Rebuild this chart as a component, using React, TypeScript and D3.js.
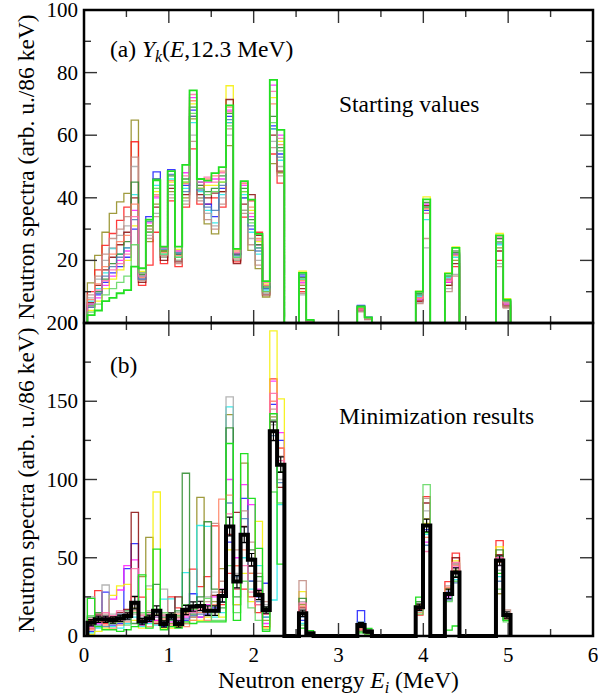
import React, { useEffect, useRef } from "react";
import * as d3 from "d3";

// 86 keV bins, first bin edge at 0.04 MeV
const BIN_START = 0.04;
const BIN_WIDTH = 0.086;
const N_BINS = 58;

// bins that are not empty (all the others are zero)
const binIndex = [0, 1, 2, 3, 4, 5, 6, 7, 8, 9, 10, 11, 12, 13, 14, 15, 16, 17, 18, 19, 20, 21, 22, 23, 24, 25, 26,
  29, 30, 37, 38, 45, 46, 49, 50, 56, 57];

const xTicks = [0, 1, 2, 3, 4, 5, 6];
const topYTicks = [0, 20, 40, 60, 80, 100];
const bottomYTicks = [0, 50, 100, 150, 200];

const seriesNames = ["olive", "red", "blue", "cyan", "magenta", "yellow", "grey", "darkred",
  "rosybrown", "darkgreen", "coral", "steelblue", "pink", "lime", "green"];
const seriesColors = ["#8f8a1c", "#ff1a1a", "#1a1aff", "#1ae8e8", "#ff1aff", "#f5f000", "#a8a8a8", "#8b0a0a",
  "#c08a80", "#2a8a2a", "#ff8060", "#4a7ab4", "#ff6aa8", "#5cd65c", "#22e022"];

// (a) starting values
const topOlive = [12.8, 21.6, 29, 35, 38.7, 41.4, 64.8, 15, 26, 38, 21, 42, 20, 40, 65.2, 40, 31.7, 28.5, 42, 56.7, 20, 36, 23.2, 17.4, 8.3, 50.9, 48, 12, 0.8, 4.5, 1.4, 8, 35, 12, 20, 24, 6];
const topRed = [10, 17, 24.8, 28.6, 32.8, 37, 57.9, 12, 18.5, 29, 19, 39, 18, 37, 55.6, 38, 38, 40, 37, 64, 19.5, 33.8, 39, 29, 10, 54, 44.7, 10, 0.7, 4, 1.2, 7, 37, 13, 18, 20, 5];
const topBlue = [6, 9, 13, 16, 18, 21, 30, 14, 34, 48.3, 24, 49, 22, 44, 68, 45, 38, 34, 43, 66, 22, 40, 30, 24, 11, 63, 54, 15, 0.9, 5.6, 1.9, 9, 36, 14, 22, 26, 7];
const topCyan = [7, 11, 16, 23.8, 22, 24, 41, 15, 30, 44, 22, 46, 21, 43, 64, 42, 36, 32, 41, 64, 21, 41, 29, 22, 10.5, 62, 52, 14, 0.8, 5, 1.5, 8.5, 33, 14.5, 21, 25, 6.5];
const topMagenta = [5, 8, 12, 15, 20, 23, 36, 16, 32, 40, 23, 44, 23, 48, 72, 44, 45, 46, 46, 68, 22, 44, 34, 25, 12, 76, 60, 13, 0.6, 4.2, 1.3, 7.5, 38, 13, 23, 27, 6];
const topYellow = [4, 7, 11, 14, 17, 20, 31, 16.5, 31, 42, 23, 45, 23.5, 45, 70, 43, 44, 44, 45, 75.8, 23.5, 42, 36, 26, 12.5, 72, 58, 16.6, 1, 5, 1.7, 10.2, 40.3, 16, 24.3, 28.6, 7.8];
const topGrey = [8, 14, 20, 24, 28, 31, 50, 14, 28, 35, 21, 41, 20, 39, 60, 40, 35, 31, 40, 60, 20, 36, 27, 20, 9.5, 58, 50, 9, 0.6, 3.8, 1.1, 6.5, 24, 11, 15.5, 19, 5];
const topDarkred = [6.5, 12, 17, 21, 25, 29, 40, 13, 29, 37, 20, 43, 19.5, 41, 66, 41, 40, 41.5, 42, 71.4, 19, 38, 41, 28, 9, 60, 48.5, 11, 0.7, 4.5, 1.3, 7, 37.5, 12, 19, 23, 5.5];
const topRosybrown = [9, 15, 22, 27, 30, 34, 53, 13.5, 27, 34, 21.5, 40, 19, 38, 58, 39, 33, 30, 38, 62, 20.5, 35, 25, 18.5, 9, 56, 47, 9.5, 0.6, 3.6, 1.1, 6.2, 27, 10, 15, 18, 4.8];
const topDarkgreen = [5.5, 10, 14, 19, 22, 26, 45, 15.5, 31, 46, 23, 47, 22, 46, 69, 44, 42, 43, 47, 67, 22, 43, 33, 25, 11.5, 66, 56, 14.5, 0.9, 5.2, 1.6, 9.5, 38.5, 15, 22.5, 27, 7];
const topCoral = [7.5, 12.5, 18, 22, 26, 28, 38, 14.5, 30, 41, 22.5, 45.5, 21.5, 44.5, 71, 43, 46, 47, 48.5, 69, 23, 44.5, 37, 27, 12, 70, 57, 13.5, 0.8, 4.8, 1.5, 8, 36.5, 14, 21.5, 26, 6.8];
const topSteelblue = [5, 9.5, 15, 18, 21, 24, 33, 14, 32.5, 46, 23.5, 47.5, 22.5, 42, 66, 42.5, 37, 36, 44, 65, 21.5, 40, 31, 23, 11, 62, 53, 15.5, 0.8, 5.4, 1.8, 9, 37, 15, 22, 25.5, 7.2];
const topPink = [6, 10.5, 13.5, 17, 19, 22, 34, 15, 33, 40.5, 24, 44, 23, 47, 73, 45, 46.6, 45, 48, 67.5, 22.5, 45, 35, 26.5, 13, 74, 59, 12.5, 0.7, 4.4, 1.4, 7.8, 35, 13.5, 22, 27.5, 6.4];
const topLime = [3.5, 6, 9, 11, 13, 15, 25, 16, 29, 43, 22, 44, 21, 45, 67, 43, 41, 42, 45, 63, 21, 42, 32, 24, 10, 64, 55, 14, 0.8, 5, 1.6, 9, 37, 15, 23, 26, 7];
const topGreen = [2.5, 4, 7, 8, 9.5, 10.5, 18, 17.5, 33, 45.6, 24.4, 48.5, 24.4, 50.5, 74.3, 46, 45.5, 47.9, 49.8, 69.5, 23.7, 45.3, 39.4, 28.5, 13.4, 77.7, 61.7, 16, 1, 5.3, 1.8, 10, 39.5, 15.8, 24, 28, 7.5];

// (b) minimization results
const botOlive = [8, 10, 12, 9, 11, 14, 18, 38, 63, 14, 10, 8, 12, 15, 12, 88.6, 15, 22, 43, 141.5, 30, 110.5, 40, 20, 10, 140, 110, 20, 1.5, 5, 2, 18, 75, 26, 42, 27, 11];
const botRed = [5, 29, 8, 10, 9, 12, 25, 24.8, 9, 10, 8, 25, 18, 14, 42.7, 31.6, 38, 70.4, 20, 40, 45, 30, 25, 15, 6, 164.3, 120, 15, 1, 4, 1.5, 13.4, 89, 34.8, 52.9, 61, 12];
const botBlue = [3, 6, 28, 7, 8, 43, 59, 8, 10, 12, 6, 10, 8, 10, 27, 12, 14, 18, 25, 60, 20, 88, 35, 25, 33.7, 148, 125, 10, 1, 16.2, 3, 19, 68, 28, 40, 45, 12.5];
const botCyan = [2, 5, 10, 6, 5, 8, 12, 6, 8, 7, 23.5, 23.7, 10, 40.5, 15, 70.6, 70, 12, 15, 146.4, 35, 50, 30, 45, 12, 23, 84, 8, 0.8, 6, 2, 16, 65, 24, 36, 38, 10];
const botMagenta = [6, 8, 12, 23.5, 29.4, 45, 48.7, 7, 9, 10, 7, 9, 10, 12, 16, 12, 20, 25, 30, 100, 50, 96.7, 84, 30, 8, 162.8, 130, 14, 1.2, 7, 2.5, 17, 60, 25, 44, 50, 13];
const botYellow = [1, 3, 5, 26, 32, 33, 10, 5, 30, 92, 5, 5, 6, 8, 10, 10, 12, 15, 12, 55, 20, 40, 22, 73.2, 5, 195, 151.5, 28.4, 1, 4, 1, 20, 72, 30, 48, 57, 14];
const botGrey = [25, 12, 32.6, 14, 12, 10, 14, 12, 32, 15, 30, 12, 15, 18, 20, 22, 25, 28, 30, 152.8, 40, 60, 50, 35, 20, 135, 100, 22, 1.5, 8, 3, 21, 80, 29, 46, 42, 12];
const botDarkred = [10, 14, 9, 12, 15, 17, 79, 10, 12, 8, 9, 12, 25, 16, 18, 20, 16, 26, 28, 65, 79, 70, 45, 28, 14, 125, 95, 18, 1.5, 3, 1.5, 17, 85, 27, 50, 52, 11];
const botRosybrown = [7, 11, 14, 8, 10, 12, 20, 14, 16, 12, 14, 15, 12, 8, 12, 18, 22, 72, 35, 70, 55, 80, 60, 40, 22, 145, 115, 35.4, 2, 5, 2, 16, 88, 32, 46, 45, 16.6];
const botDarkgreen = [12, 15, 10, 11, 13, 16, 8, 9, 15, 33, 12, 14, 16, 104, 14, 25, 73, 30, 18, 133, 25, 65, 55, 38, 18, 138, 105, 24, 2, 7, 2, 22, 70, 26, 38, 55, 14];
const botCoral = [4, 9, 7, 5, 7, 9, 16, 11, 6, 9, 11, 7, 14, 6, 10, 15, 10, 20, 87.5, 90, 45, 55, 40, 26, 16, 150, 120, 19, 1.2, 5, 2, 15, 63, 31, 45, 47, 11];
const botSteelblue = [9, 7, 6, 10, 14, 11, 22, 8, 11, 15, 9, 11, 9, 11, 13, 14, 13, 15, 22, 85, 38, 75, 35, 22, 12, 128, 98, 12, 0.8, 9, 2.5, 18, 58, 23, 34, 35, 10];
const botPink = [11, 13, 15, 13, 16, 15, 43, 13, 14, 13, 13, 13, 11, 13, 15, 17, 18, 16, 25, 78, 30, 45, 28, 20, 14, 155, 112, 21, 1.4, 4, 2, 19, 54, 27, 47, 50, 13.5];
const botLime = [13, 10, 11, 8, 9, 7, 15, 15, 13, 17, 15, 10, 13, 20, 17, 19, 24, 10, 10, 45, 15, 35, 18, 10, 4, 92, 85, 7, 0.8, 3, 1, 14, 96.7, 22, 35, 30, 9];
const botGreen = [24, 6, 4, 4, 3, 4, 6, 39, 5, 55.5, 4, 6, 5, 9, 8, 9, 9, 9, 9, 123, 10, 116.5, 88, 56, 3, 142, 45.9, 5, 3.4, 2, 4.9, 24.8, 66, 3.8, 6.4, 40, 10];

// black: final result with its uncertainties
const resultValues = [8.5, 10.7, 10.7, 10.2, 11.3, 12.8, 21.3, 9.2, 11.3, 16.2, 7.7, 12.8, 7.7, 16.6, 18.8, 19.2, 16.2, 16.2, 25.6, 70, 34.8, 64.7, 48.7, 26.2, 16.6, 130.8, 109.5, 14.5, 1.7, 7, 2.8, 18.4, 70.6, 26.9, 40.5, 48.2, 13.4];
const resultErrors = [2, 2, 2, 2, 2, 2, 4, 2, 2, 3, 2, 2, 2, 3, 3, 3, 3, 3, 4, 6, 4, 5, 4, 3, 2, 6, 5, 2, 0.5, 1.5, 1, 2, 4, 3, 3, 3, 2];

const topSeries = [topOlive, topRed, topBlue, topCyan, topMagenta, topYellow, topGrey, topDarkred,
  topRosybrown, topDarkgreen, topCoral, topSteelblue, topPink, topLime, topGreen];
const bottomSeries = [botOlive, botRed, botBlue, botCyan, botMagenta, botYellow, botGrey, botDarkred,
  botRosybrown, botDarkgreen, botCoral, botSteelblue, botPink, botLime, botGreen];

const FONT = "'Liberation Serif', 'Times New Roman', Times, serif";

const edge = (k: number) => BIN_START + k * BIN_WIDTH;

// turn the sparse values into histogram step points
function stepPoints(vals: number[]): [number, number][] {
  const full = new Array(N_BINS).fill(0);
  binIndex.forEach((b, i) => { full[b] = vals[i]; });
  const pts: [number, number][] = [[edge(0), 0]];
  full.forEach((v, k) => {
    pts.push([edge(k), v]);
    pts.push([edge(k + 1), v]);
  });
  pts.push([edge(N_BINS), 0]);
  return pts;
}

const App = () => {
  const ref = useRef<SVGSVGElement>(null);

  useEffect(() => {
    const svg = d3.select(ref.current);
    svg.selectAll("*").remove();

    const left = 84, right = 593;
    const x = d3.scaleLinear().domain([0, 6]).range([left, right]);
    const yTop = d3.scaleLinear().domain([0, 100]).range([323, 10]);
    const yBot = d3.scaleLinear().domain([0, 200]).range([636, 323]);

    const drawPanel = (y: d3.ScaleLinear<number, number>, series: number[][], yTicks: number[],
      minorStep: number, lastThick: boolean) => {
      const g = svg.append("g");
      const line = d3.line<[number, number]>()
        .x(d => x(d[0]))
        .y(d => y(d[1]));

      series.forEach((vals, i) => {
        const last = i === series.length - 1;
        g.append("path")
          .attr("d", line(stepPoints(vals)))
          .attr("fill", "none")
          .attr("stroke", seriesColors[i])
          .attr("stroke-width", last && lastThick ? 1.8 : 1.3)
          .attr("stroke-opacity", last ? 1 : 0.85)
          .attr("data-name", seriesNames[i]);
      });

      const [y0, y1] = y.range();
      const [d0, d1] = y.domain();

      // ticks pointing inward on all sides
      const tg = svg.append("g").attr("stroke", "#333").attr("stroke-width", 1.4);
      d3.range(0, 6.01, 0.5).forEach(v => {
        const len = Math.abs(v - Math.round(v)) < 1e-6 ? 13 : 7;
        tg.append("line").attr("x1", x(v)).attr("x2", x(v)).attr("y1", y0).attr("y2", y0 - len);
        tg.append("line").attr("x1", x(v)).attr("x2", x(v)).attr("y1", y1).attr("y2", y1 + len);
      });
      const major = yTicks[1] - yTicks[0];
      d3.range(d0, d1 + 0.01, minorStep).forEach(v => {
        const len = Math.abs(v / major - Math.round(v / major)) < 1e-6 ? 13 : 7;
        tg.append("line").attr("x1", left).attr("x2", left + len).attr("y1", y(v)).attr("y2", y(v));
        tg.append("line").attr("x1", right).attr("x2", right - len).attr("y1", y(v)).attr("y2", y(v));
      });

      svg.append("g")
        .selectAll("text")
        .data(yTicks)
        .join("text")
        .attr("x", left - 6)
        .attr("y", d => y(d) + 7)
        .attr("text-anchor", "end")
        .attr("font-family", FONT)
        .attr("font-size", 21)
        .text(d => d);

      return g;
    };

    drawPanel(yTop, topSeries, topYTicks, 10, true);
    const gb = drawPanel(yBot, bottomSeries, bottomYTicks, 25, false);

    // result curve in black with error bars
    const resLine = d3.line<[number, number]>().x(d => x(d[0])).y(d => yBot(d[1]));
    gb.append("path")
      .attr("d", resLine(stepPoints(resultValues)))
      .attr("fill", "none")
      .attr("stroke", "#000")
      .attr("stroke-width", 4)
      .attr("stroke-linejoin", "miter");
    binIndex.forEach((b, i) => {
      const cx = x(edge(b) + BIN_WIDTH / 2);
      const v = resultValues[i], e = resultErrors[i];
      gb.append("path")
        .attr("d", `M${cx},${yBot(v - e)}V${yBot(v + e)}M${cx - 3},${yBot(v - e)}H${cx + 3}M${cx - 3},${yBot(v + e)}H${cx + 3}`)
        .attr("stroke", "#000")
        .attr("stroke-width", 1.2)
        .attr("fill", "none");
    });

    // frames
    svg.append("rect").attr("x", left).attr("y", 10).attr("width", right - left).attr("height", 313)
      .attr("fill", "none").attr("stroke", "#000").attr("stroke-width", 2.5);
    svg.append("rect").attr("x", left).attr("y", 323).attr("width", right - left).attr("height", 313)
      .attr("fill", "none").attr("stroke", "#000").attr("stroke-width", 2.5);

    // x tick labels
    svg.append("g")
      .selectAll("text")
      .data(xTicks)
      .join("text")
      .attr("x", d => x(d))
      .attr("y", 662)
      .attr("text-anchor", "middle")
      .attr("font-family", FONT)
      .attr("font-size", 21)
      .text(d => d);

    // x axis title
    const xt = svg.append("text")
      .attr("x", (left + right) / 2)
      .attr("y", 688)
      .attr("text-anchor", "middle")
      .attr("font-family", FONT)
      .attr("font-size", 23.5);
    xt.append("tspan").text("Neutron energy ");
    xt.append("tspan").attr("font-style", "italic").text("E");
    xt.append("tspan").attr("font-style", "italic").attr("font-size", 16).attr("dy", 5).text("i");
    xt.append("tspan").attr("dy", -5).text(" (MeV)");

    // y axis titles
    [167, 480].forEach(cy => {
      svg.append("text")
        .attr("transform", `translate(34,${cy}) rotate(-90)`)
        .attr("text-anchor", "middle")
        .attr("font-family", FONT)
        .attr("font-size", 23.5)
        .text("Neutron spectra (arb. u./86 keV)");
    });

    // panel annotations
    const ta = svg.append("text")
      .attr("x", 110).attr("y", 57)
      .attr("font-family", FONT).attr("font-size", 23.5);
    ta.append("tspan").text("(a) ");
    ta.append("tspan").attr("font-style", "italic").text("Y");
    ta.append("tspan").attr("font-style", "italic").attr("font-size", 16).attr("dy", 5).text("k");
    ta.append("tspan").attr("dy", -5).text("(");
    ta.append("tspan").attr("font-style", "italic").text("E");
    ta.append("tspan").text(",12.3 MeV)");

    svg.append("text").attr("x", 339).attr("y", 112)
      .attr("font-family", FONT).attr("font-size", 23.5).text("Starting values");
    svg.append("text").attr("x", 110).attr("y", 373)
      .attr("font-family", FONT).attr("font-size", 23.5).text("(b)");
    svg.append("text").attr("x", 339).attr("y", 424)
      .attr("font-family", FONT).attr("font-size", 23.5).text("Minimization results");
  }, []);

  return (
    <svg
      ref={ref}
      width={598}
      height={698}
      style={{ position: "absolute", left: 0, top: 0, background: "#fff" }}
    />
  );
};

export default App;
